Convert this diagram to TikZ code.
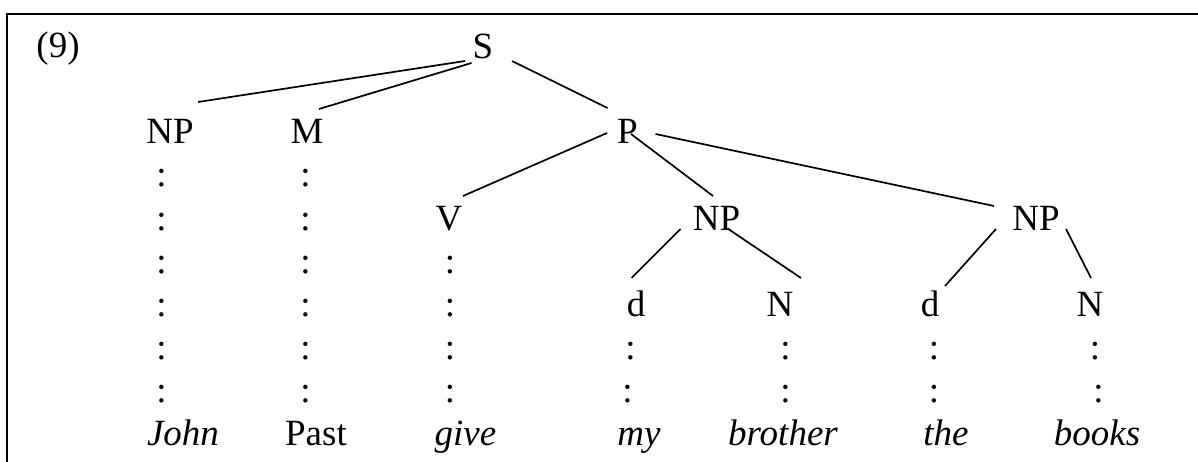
\documentclass[tikz,border=0pt]{standalone}
\usepackage{fontspec}
\setmainfont{Liberation Serif}
\usetikzlibrary{calc}
\begin{document}
\begin{tikzpicture}[x=1pt,y=-1pt,
  lbl/.style={anchor=base,inner sep=0pt,outer sep=0pt,font=\fontsize{37}{44}\selectfont},
  wrd/.style={lbl,font=\fontsize{37}{44}\selectfont\itshape},
  colon/.style={lbl},
  edge/.style={line width=1.7pt},
  frame/.style={line width=2pt}]
\useasboundingbox (0,0) rectangle (1198,462);
\clip (0,0) rectangle (1198,462);
\draw[frame] (6.5,480) -- (6.5,14) -- (1220,14);
% labels
\node[lbl] (ex) at (58,58) {(9)};
\node[lbl] (S) at (483,59) {S};
\node[lbl] (NP1) at (170,144) {NP};
\node[lbl] (M) at (307,144) {M};
\node[lbl] (P) at (627.5,144) {P};
\node[lbl] (V) at (449,230) {V};
\node[lbl] (NP2) at (716.5,230) {NP};
\node[lbl] (NP3) at (1036,230) {NP};
\node[lbl] (d1) at (636,316) {d};
\node[lbl] (N1) at (780,316) {N};
\node[lbl] (d2) at (930,316) {d};
\node[lbl] (N2) at (1090,316) {N};
% words
\node[wrd] (John) at (183,445) {John};
\node[lbl] (Past) at (316,445) {Past};
\node[wrd] (give) at (465.5,445) {give};
\node[wrd] (my) at (639,445) {my};
\node[wrd] (brother) at (783,445) {brother};
\node[wrd] (the) at (946,445) {the};
\node[wrd] (books) at (1097,445) {books};
% colons
\foreach \r in {187,230,273,316,359,402}{
  \node[colon] (cNP-\r) at (161.5,\r) {:};
  \node[colon] (cM-\r) at (305.5,\r) {:};
}
\foreach \r in {273,316,359,402}{
  \node[colon] (cV-\r) at (450,\r) {:};
}
\node[colon] (cda-1) at (630.5,359) {:};
\node[colon] (cda-2) at (627.5,402) {:};
\node[colon] (cNa-1) at (785.5,359) {:};
\node[colon] (cNa-2) at (785.5,402) {:};
\node[colon] (cdb-1) at (934,359) {:};
\node[colon] (cdb-2) at (934,402) {:};
\node[colon] (cNb-1) at (1095,359) {:};
\node[colon] (cNb-2) at (1098.5,402) {:};
% edges
\draw[edge] ($(S.base)+(-18,2)$) -- ($(NP1.base)+(28,-42)$);
\draw[edge] ($(S.base)+(-11.5,4)$) -- ($(M.base)+(12,-35)$);
\draw[edge] ($(S.base)+(29,2)$) -- ($(P.base)+(-20,-36)$);
\draw[edge] ($(P.base)+(-20.5,-11)$) -- ($(V.base)+(14,-34)$);
\draw[edge] ($(P.base)+(3.5,-10)$) -- ($(NP2.base)+(-3.5,-34)$);
\draw[edge] ($(P.base)+(28,-10)$) -- ($(NP3.base)+(-42,-24)$);
\draw[edge] ($(NP2.base)+(-36,-1)$) -- ($(d1.base)+(-4.5,-38)$);
\draw[edge] ($(NP2.base)+(11,-1.5)$) -- ($(N1.base)+(21,-38)$);
\draw[edge] ($(NP3.base)+(-40,-1)$) -- ($(d2.base)+(15,-30)$);
\draw[edge] ($(NP3.base)+(30,-1)$) -- ($(N2.base)+(1,-38)$);
\end{tikzpicture}
\end{document}
